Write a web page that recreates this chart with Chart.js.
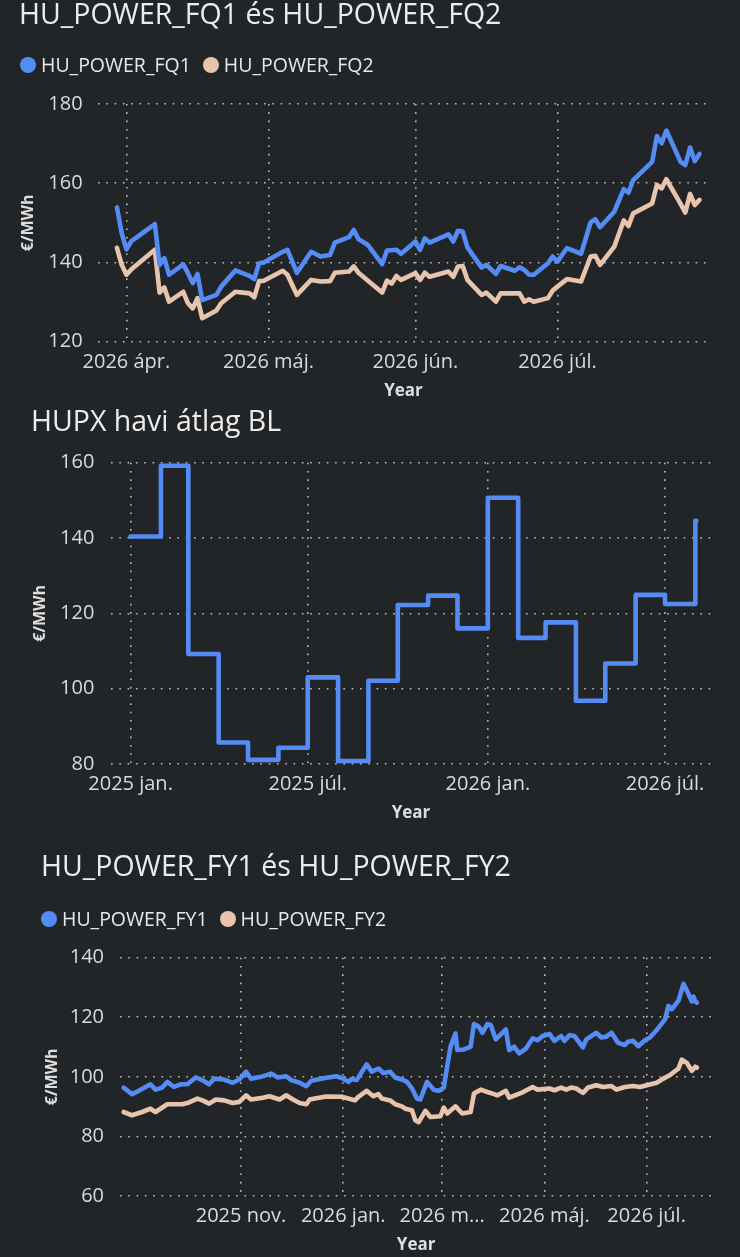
<!DOCTYPE html>
<html lang="hu">
<head>
<meta charset="utf-8">
<title>HU power</title>
<script src="https://cdn.jsdelivr.net/npm/chart.js@4.4.1/dist/chart.umd.min.js"></script>
<style>
  html, body { margin: 0; padding: 0; background: #222528; }
  body { width: 740px; height: 1257px; position: relative; overflow: hidden; font-family: 'Open Sans', sans-serif; }
  .panel { position: absolute; left: 0; width: 740px; }
  .title { position: absolute; font-size: 28.5px; line-height: 1; color: #ececec; white-space: nowrap; }
  .legend { position: absolute; display: flex; align-items: center; font-size: 19.5px; line-height: 1; color: #e8e8e8; white-space: nowrap; }
  .legend .item { display: flex; align-items: center; margin-right: 12px; }
  .legend .dot { width: 16px; height: 16px; border-radius: 50%; margin-right: 5px; }
</style>
</head>
<body>
<div class="panel" style="top:0;height:405px"><canvas id="fqChart"></canvas></div>
<div class="panel" style="top:400px;height:430px"><canvas id="hupxChart"></canvas></div>
<div class="panel" style="top:840px;height:417px"><canvas id="fyChart"></canvas></div>

<div class="title" style="left:19px;top:-1px">HU_POWER_FQ1 és HU_POWER_FQ2</div>
<div class="legend" id="fqLegend" style="left:20px;top:55px"></div>
<div class="title" style="left:31px;top:406px">HUPX havi átlag BL</div>
<div class="title" style="left:41px;top:851px">HU_POWER_FY1 és HU_POWER_FY2</div>
<div class="legend" id="fyLegend" style="left:41px;top:909px"></div>

<script>
const BLUE = '#548bf4';
const PEACH = '#e9c4ac';
const GRID = 'rgba(215,215,215,0.85)';
const TICK = '#dadada';
const AXIS_TITLE = '#dedede';

// HU_POWER_FQ1 / FQ2 (daily settlements, 2026)
const fqDates = [
  '2026-03-30','2026-03-31','2026-04-01','2026-04-02','2026-04-07','2026-04-08','2026-04-09','2026-04-10',
  '2026-04-13','2026-04-14','2026-04-15','2026-04-16','2026-04-17','2026-04-20','2026-04-21','2026-04-24',
  '2026-04-27','2026-04-28','2026-04-29','2026-04-30','2026-05-04','2026-05-05','2026-05-07','2026-05-10',
  '2026-05-12','2026-05-14','2026-05-15','2026-05-18','2026-05-19','2026-05-20','2026-05-22','2026-05-25',
  '2026-05-26','2026-05-27','2026-05-28','2026-05-29','2026-06-01','2026-06-02','2026-06-03','2026-06-04',
  '2026-06-08','2026-06-09','2026-06-10','2026-06-11','2026-06-12','2026-06-15','2026-06-16','2026-06-18',
  '2026-06-19','2026-06-22','2026-06-23','2026-06-24','2026-06-25','2026-06-26','2026-06-29','2026-06-30',
  '2026-07-01','2026-07-03','2026-07-06','2026-07-08','2026-07-09','2026-07-10','2026-07-13','2026-07-15',
  '2026-07-16','2026-07-17','2026-07-21','2026-07-22','2026-07-23','2026-07-24','2026-07-27','2026-07-28',
  '2026-07-29','2026-07-30','2026-07-31'
];
const fq1Values = [
  153.9,147.4,143.3,145.3,149.7,139.4,141.1,136.9,
  139.5,137.3,134.8,137.1,130.5,131.8,133.9,138.0,
  136.6,135.8,139.8,140.0,142.7,143.2,137.4,142.7,
  141.5,141.9,145.0,146.4,148.2,145.9,144.4,139.6,
  143.0,143.1,143.2,142.2,145.3,143.2,146.1,145.0,
  147.1,145.3,148.0,147.8,143.8,138.7,139.4,137.1,
  139.1,137.9,138.8,138.1,136.9,136.9,139.8,141.5,
  140.2,143.6,142.2,150.1,150.9,148.9,152.8,158.5,
  157.6,160.8,165.4,171.9,170.1,173.3,165.4,164.6,
  169.0,165.6,167.4
];
const fq2Values = [
  143.7,139.4,136.9,138.2,143.2,132.4,133.7,130.1,
  132.6,129.7,128.4,131.0,125.9,127.9,129.7,132.6,
  132.2,131.2,135.3,135.4,137.9,136.9,131.8,135.6,
  135.2,135.3,137.4,137.7,139.0,137.4,135.4,132.4,
  135.4,134.7,136.6,135.6,137.3,135.6,137.4,136.4,
  137.7,136.4,139.0,139.1,135.6,131.8,132.4,130.1,
  132.2,132.2,132.2,130.1,130.7,130.1,131.0,132.9,
  133.9,135.8,135.2,141.5,141.7,139.4,144.0,150.6,
  149.2,152.4,154.9,159.6,158.7,161.0,154.8,152.6,
  157.3,154.5,155.8
];
const fqTicks = ['2026-04-01', '2026-05-01', '2026-06-01', '2026-07-01'];
const fqTickLabels = ['2026 ápr.', '2026 máj.', '2026 jún.', '2026 júl.'];

// HUPX havi átlag BL (monthly average, step line)
const hupxMonths = [
  '2025-01-01','2025-02-01','2025-03-01','2025-04-01','2025-05-01','2025-06-01','2025-07-01',
  '2025-08-01','2025-09-01','2025-10-01','2025-11-01','2025-12-01','2026-01-01','2026-02-01',
  '2026-03-01','2026-04-01','2026-05-01','2026-06-01','2026-07-01','2026-08-01','2026-08-02'
];
const hupxValues = [
  140.4,159.2,109.2,85.7,81.1,84.3,103.0,
  80.8,102.1,122.2,124.7,116.0,150.7,113.5,
  117.6,96.8,106.7,124.9,122.5,144.6,144.6
];
const hupxTicks = ['2025-01-01', '2025-07-01', '2026-01-01', '2026-07-01'];
const hupxTickLabels = ['2025 jan.', '2025 júl.', '2026 jan.', '2026 júl.'];

// HU_POWER_FY1
const fy1Dates = [
  '2025-08-23','2025-08-28','2025-09-01','2025-09-08','2025-09-11','2025-09-15','2025-09-18','2025-09-22',
  '2025-09-26','2025-09-30','2025-10-05','2025-10-09','2025-10-13','2025-10-16','2025-10-22','2025-10-27',
  '2025-10-31','2025-11-04','2025-11-07','2025-11-13','2025-11-19','2025-11-23','2025-11-28','2025-12-01',
  '2025-12-06','2025-12-10','2025-12-13','2025-12-21','2025-12-28','2026-01-01','2026-01-04','2026-01-06',
  '2026-01-09','2026-01-15','2026-01-18','2026-01-22','2026-01-25','2026-01-29','2026-02-01','2026-02-05',
  '2026-02-08','2026-02-11','2026-02-14','2026-02-16','2026-02-20','2026-02-24','2026-02-27','2026-03-02',
  '2026-03-04','2026-03-06','2026-03-09','2026-03-10','2026-03-14','2026-03-18','2026-03-20','2026-03-23',
  '2026-03-25','2026-03-28','2026-03-30','2026-04-02','2026-04-08','2026-04-10','2026-04-13','2026-04-16',
  '2026-04-20','2026-04-24','2026-04-27','2026-04-30','2026-05-04','2026-05-07','2026-05-11','2026-05-13',
  '2026-05-16','2026-05-19','2026-05-24','2026-05-26','2026-06-01','2026-06-04','2026-06-07','2026-06-10',
  '2026-06-14','2026-06-18','2026-06-20','2026-06-23','2026-06-26','2026-06-30','2026-07-03','2026-07-07',
  '2026-07-12','2026-07-14','2026-07-16','2026-07-20','2026-07-23','2026-07-25','2026-07-28','2026-07-29',
  '2026-07-30','2026-07-31'
];
const fy1Values = [
  96.4,94.2,95.3,97.5,95.7,96.4,98.3,96.6,
  97.5,97.5,99.8,98.9,97.5,99.4,99.1,98.0,
  99.1,101.7,99.4,100.0,101.1,99.8,100.2,98.9,
  98.0,96.9,98.7,99.6,100.2,99.4,98.3,99.3,
  98.9,104.2,101.7,102.8,101.3,101.7,99.8,99.1,
  98.3,96.1,92.7,92.4,98.3,95.7,95.3,96.4,
  103.4,110.1,114.6,109.0,109.2,110.1,117.7,116.8,
  114.8,117.7,117.4,112.6,115.9,109.0,110.1,107.9,
  109.5,112.9,112.3,113.7,114.4,112.1,113.7,112.1,
  114.0,113.7,109.9,112.6,114.8,113.2,113.5,114.8,
  111.4,110.7,111.8,112.1,110.3,112.3,113.2,115.7,
  119.3,123.8,122.7,125.6,131.2,129.0,125.3,126.9,
  125.3,124.9
];

// HU_POWER_FY2
const fy2Dates = [
  '2025-08-23','2025-08-28','2025-09-03','2025-09-08','2025-09-11','2025-09-18','2025-09-27','2025-09-30',
  '2025-10-06','2025-10-09','2025-10-13','2025-10-17','2025-10-22','2025-10-27','2025-10-31','2025-11-04',
  '2025-11-07','2025-11-14','2025-11-18','2025-11-24','2025-11-28','2025-12-02','2025-12-06','2025-12-10',
  '2025-12-12','2025-12-15','2025-12-22','2025-12-31','2026-01-04','2026-01-08','2026-01-10','2026-01-15',
  '2026-01-19','2026-01-22','2026-01-24','2026-01-29','2026-02-01','2026-02-05','2026-02-07','2026-02-11',
  '2026-02-13','2026-02-15','2026-02-19','2026-02-22','2026-02-28','2026-03-02','2026-03-04','2026-03-09',
  '2026-03-13','2026-03-18','2026-03-20','2026-03-24','2026-03-28','2026-04-01','2026-04-03','2026-04-08',
  '2026-04-10','2026-04-18','2026-04-24','2026-04-27','2026-05-04','2026-05-07','2026-05-11','2026-05-14',
  '2026-05-17','2026-05-20','2026-05-24','2026-05-27','2026-06-01','2026-06-05','2026-06-10','2026-06-13',
  '2026-06-18','2026-06-23','2026-06-27','2026-07-01','2026-07-07','2026-07-11','2026-07-15','2026-07-20',
  '2026-07-22','2026-07-25','2026-07-28','2026-07-30','2026-07-31'
];
const fy2Values = [
  88.2,87.1,88.2,89.3,88.2,90.8,90.8,91.2,
  92.7,92.1,91.0,92.4,92.1,91.2,91.6,93.8,
  92.4,93.0,93.5,92.4,93.8,92.4,91.2,90.8,
  92.4,92.7,93.4,93.3,92.7,92.1,93.3,95.3,
  93.5,94.2,92.7,92.1,90.8,90.1,89.3,88.8,
  85.4,84.8,88.6,86.5,86.8,89.7,87.7,90.1,
  87.7,88.2,94.4,95.7,94.9,94.2,93.8,95.3,
  93.0,94.8,96.6,95.7,96.1,95.5,96.4,95.7,
  96.4,96.1,94.6,96.4,97.2,96.6,96.9,95.7,
  96.6,96.9,96.6,97.2,98.0,99.4,100.6,102.8,
  105.8,104.7,102.0,103.4,103.1
];
const fyTicks = ['2025-11-01', '2026-01-01', '2026-03-01', '2026-05-01', '2026-07-01'];
const fyTickLabels = ['2025 nov.', '2026 jan.', '2026 m...', '2026 máj.', '2026 júl.'];

Chart.defaults.font.family = "'Open Sans', sans-serif";

const toDay = s => Date.parse(s + 'T00:00:00Z') / 864e5;
const points = (dates, values) => dates.map((d, i) => ({ x: toDay(d), y: values[i] }));

function gridStyle() {
  return {
    grid: { color: GRID, lineWidth: 1.6, drawTicks: false },
    border: { display: false, dash: [1.6, 6.7] }
  };
}

function lineOptions(o) {
  const tickDays = o.ticks.map(toDay);
  return {
    responsive: true,
    maintainAspectRatio: false,
    animation: false,
    layout: { padding: o.padding },
    plugins: { legend: { display: false }, tooltip: { enabled: false } },
    elements: {
      point: { radius: 0 },
      line: { tension: 0, borderWidth: 4.6, borderJoinStyle: 'round', borderCapStyle: 'round' }
    },
    scales: {
      x: {
        type: 'linear',
        min: toDay(o.xRange[0]),
        max: toDay(o.xRange[1]),
        afterBuildTicks: axis => { axis.ticks = tickDays.map(v => ({ value: v })); },
        afterFit: axis => { axis.height = o.xHeight; },
        ticks: {
          autoSkip: false, maxRotation: 0, padding: o.xTickPad, color: TICK, font: { size: 20 },
          callback: v => o.labels[tickDays.indexOf(v)]
        },
        ...gridStyle(),
        title: {
          display: true, text: 'Year', color: AXIS_TITLE,
          font: { size: 17, weight: 'bold' }, padding: { top: 0, bottom: o.xTitlePad }
        }
      },
      y: {
        min: o.yRange[0],
        max: o.yRange[1],
        afterFit: axis => { axis.width = o.yWidth; },
        ticks: { stepSize: 20, padding: o.yTickPad, color: TICK, font: { size: 20 } },
        ...gridStyle(),
        title: {
          display: true, text: '€/MWh', color: AXIS_TITLE,
          font: { size: 16, weight: 'bold' }, padding: { top: o.yTitlePad, bottom: 0 }
        }
      }
    }
  };
}

function buildLegend(el, chart) {
  chart.data.datasets.forEach(ds => {
    const item = document.createElement('span');
    item.className = 'item';
    const dot = document.createElement('span');
    dot.className = 'dot';
    dot.style.background = ds.borderColor;
    item.append(dot, ds.label);
    el.append(item);
  });
}

const fqChart = new Chart(document.getElementById('fqChart'), {
  type: 'line',
  data: {
    datasets: [
      { label: 'HU_POWER_FQ1', data: points(fqDates, fq1Values), borderColor: BLUE, backgroundColor: BLUE },
      { label: 'HU_POWER_FQ2', data: points(fqDates, fq2Values), borderColor: PEACH, backgroundColor: PEACH }
    ]
  },
  options: lineOptions({
    padding: { top: 104, right: 31, left: 0, bottom: 0 },
    xRange: ['2026-03-26', '2026-08-02'], ticks: fqTicks, labels: fqTickLabels,
    xHeight: 63.3, xTickPad: 8.6, xTitlePad: 3.8,
    yRange: [120, 180], yWidth: 98, yTickPad: 15.4, yTitlePad: 18.4
  })
});

const hupxChart = new Chart(document.getElementById('hupxChart'), {
  type: 'line',
  data: {
    datasets: [
      { label: 'HUPX', data: points(hupxMonths, hupxValues), borderColor: BLUE, backgroundColor: BLUE, stepped: 'before' }
    ]
  },
  options: lineOptions({
    padding: { top: 62.7, right: 29, left: 0, bottom: 0 },
    xRange: ['2024-12-12', '2026-08-17'], ticks: hupxTicks, labels: hupxTickLabels,
    xHeight: 66, xTickPad: 7.8, xTitlePad: 6.3,
    yRange: [80, 160], yWidth: 111, yTickPad: 16.6, yTitlePad: 30.4
  })
});

const fyChart = new Chart(document.getElementById('fyChart'), {
  type: 'line',
  data: {
    datasets: [
      { label: 'HU_POWER_FY1', data: points(fy1Dates, fy1Values), borderColor: BLUE, backgroundColor: BLUE },
      { label: 'HU_POWER_FY2', data: points(fy2Dates, fy2Values), borderColor: PEACH, backgroundColor: PEACH }
    ]
  },
  options: lineOptions({
    padding: { top: 117.7, right: 28, left: 0, bottom: 0 },
    xRange: ['2025-08-21', '2026-08-09'], ticks: fyTicks, labels: fyTickLabels,
    xHeight: 61, xTickPad: 8.1, xTitlePad: 1.3,
    yRange: [60, 140], yWidth: 120.3, yTickPad: 16.3, yTitlePad: 42.4
  })
});

buildLegend(document.getElementById('fqLegend'), fqChart);
buildLegend(document.getElementById('fyLegend'), fyChart);
</script>
</body>
</html>
